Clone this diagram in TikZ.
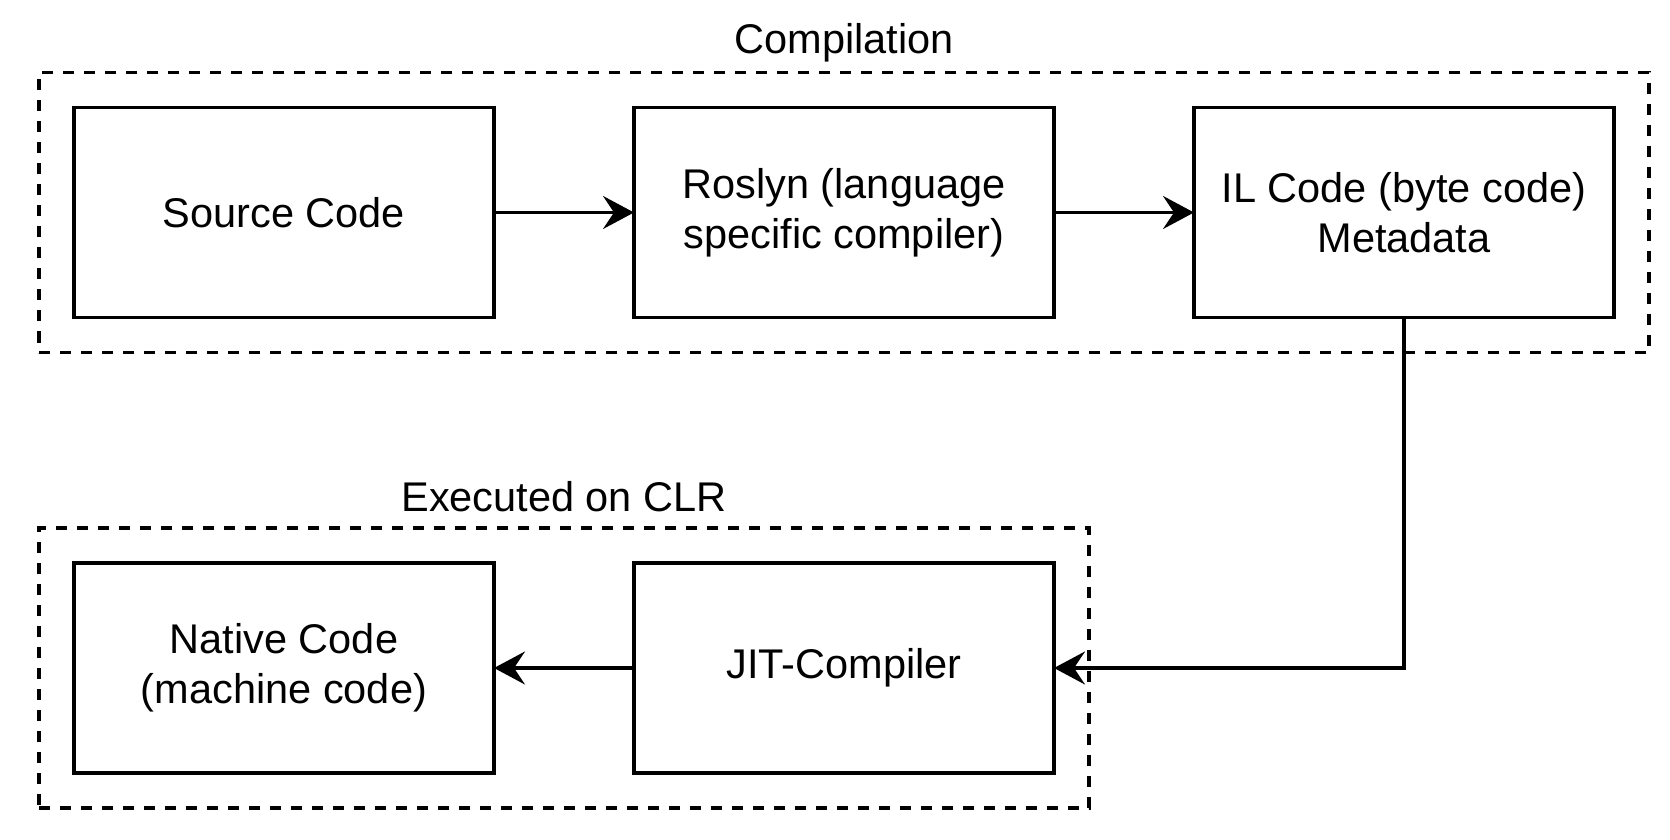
\documentclass[tikz,border=0pt]{standalone}
\usepackage{fontspec}
\setmainfont{Liberation Sans}
\usetikzlibrary{positioning,fit,arrows.meta}

\tikzset{
    block/.style={draw, line width=1.75pt, minimum width=210pt, minimum height=105pt, outer sep=0pt, align=center, font=\fontsize{20.75}{25}\selectfont},
    frame/.style={draw, line width=1.6pt, dash pattern=on 5.5pt off 5pt, inner sep=17.5pt, outer sep=0pt},
    title/.style={anchor=base, font=\fontsize{20.75}{25}\selectfont},
    flow/.style={line width=1.6pt, -{Stealth[length=15.5pt, width=16.5pt, inset=5.5pt]}}
}

\begin{document}
\begin{tikzpicture}[x=0.5pt, y=-0.5pt]
        \useasboundingbox (0,0) rectangle (1670,840);
        \node [block] (src) at (284,212.5) {Source Code};
        \node [block, right=70pt of src] (roslyn) {Roslyn (language\\specific compiler)};
        \node [block, right=70pt of roslyn] (il) {IL Code (byte code)\\Metadata};
        \node [block, below=122.75pt of roslyn] (jit) {JIT-Compiler};
        \node [block, left=70pt of jit] (native) {Native Code\\(machine code)};
        \node [frame, fit=(src)(il)] (compile) {};
        \node [frame, fit=(native)(jit)] (clr) {};
        \node [title] (compiletitle) at ([yshift=9.5pt]compile.north) {Compilation};
        \node [title] (clrtitle) at ([yshift=8.5pt]clr.north) {Executed on CLR};
        \draw [flow] (src) -- (roslyn);
        \draw [flow] (roslyn) -- (il);
        \draw [flow] (il.south) |- (jit.east);
        \draw [flow] (jit) -- (native);
\end{tikzpicture}
\end{document}
